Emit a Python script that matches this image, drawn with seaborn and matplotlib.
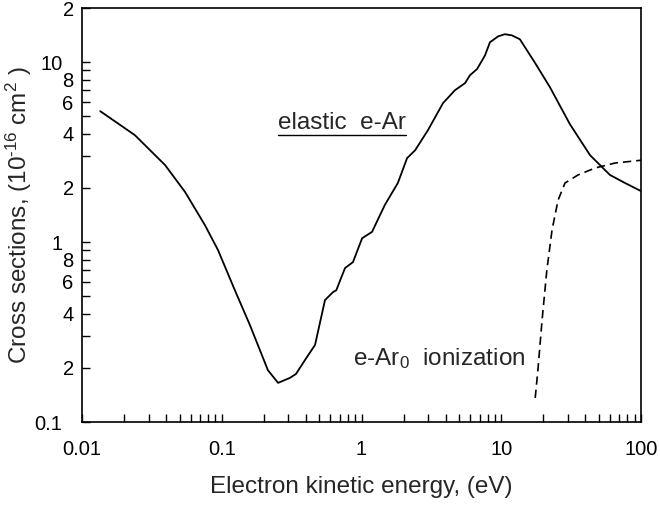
import numpy as np
import pandas as pd
import matplotlib
matplotlib.use("Agg")
import matplotlib.pyplot as plt
import seaborn as sns
from matplotlib.ticker import FixedLocator, FixedFormatter, NullFormatter

# Elastic e-Ar cross section (1e-16 cm^2) vs energy (eV)
elastic_energy = [0.0135, 0.0239, 0.0393, 0.0546, 0.0759, 0.094, 0.124, 0.159, 0.214, 0.253,
                  0.308, 0.34, 0.394, 0.465, 0.548, 0.625, 0.66, 0.762, 0.869, 1.01, 1.19,
                  1.47, 1.82, 2.12, 2.42, 2.99, 3.83, 4.67, 5.5, 5.98, 6.71, 7.65, 8.3,
                  9.48, 10.6, 11.9, 13.6, 17.5, 22.3, 31.0, 43.2, 60.0, 76.9, 100.0]
elastic_sigma = [5.34, 3.93, 2.68, 1.90, 1.24, 0.903, 0.541, 0.346, 0.194, 0.165,
                 0.176, 0.185, 0.221, 0.268, 0.476, 0.527, 0.54, 0.717, 0.774, 1.05, 1.14,
                 1.61, 2.13, 2.93, 3.24, 4.19, 5.92, 6.99, 7.64, 8.47, 9.15, 10.9, 12.9,
                 13.9, 14.3, 14.1, 13.4, 9.87, 7.26, 4.52, 3.04, 2.36, 2.13, 1.92]

# Ionization e-Ar0
ion_energy = [17.5, 18.3, 19.6, 21.2, 23.1, 25.5, 28.6, 35.4, 46.9, 65.2, 100.0]
ion_sigma = [0.136, 0.195, 0.369, 0.699, 1.17, 1.71, 2.13, 2.36, 2.58, 2.75, 2.85]

y_major_vals = [0.1, 1, 10]
y_major_txt = ["0.1", "1", "10"]
y_minor_vals = [0.2, 0.3, 0.4, 0.5, 0.6, 0.7, 0.8, 0.9, 2, 3, 4, 5, 6, 7, 8, 9, 20]
y_minor_txt = ["2", "", "4", "", "6", "", "8", "", "2", "", "4", "", "6", "", "8", "", "2"]
x_major_vals = [0.01, 0.1, 1, 10, 100]
x_major_txt = ["0.01", "0.1", "1", "10", "100"]

sns.set_style("ticks")
plt.rcParams['font.family'] = ['Liberation Sans', 'DejaVu Sans']
plt.rcParams['mathtext.fontset'] = 'custom'
plt.rcParams['mathtext.rm'] = 'Liberation Sans'
plt.rcParams['mathtext.it'] = 'Liberation Sans:italic'

fig = plt.figure(figsize=(6.6, 5.08), dpi=100)
ax = fig.add_axes([82/660, 1-422/508, (641-82)/660, (422-8)/508])

df_el = pd.DataFrame({"E": elastic_energy, "s": elastic_sigma})
df_ion = pd.DataFrame({"E": ion_energy, "s": ion_sigma})
sns.lineplot(data=df_el, x="E", y="s", ax=ax, color="black", lw=1.3, sort=False)
sns.lineplot(data=df_ion, x="E", y="s", ax=ax, color="black", lw=1.2, sort=False,
             linestyle=(0, (5, 3)))

ax.set_xscale("log")
ax.set_yscale("log")
ax.set_xlim(0.01, 100)
ax.set_ylim(0.1, 20)

ax.xaxis.set_major_locator(FixedLocator(x_major_vals))
ax.xaxis.set_major_formatter(FixedFormatter(x_major_txt))
xminor = [m * d for d in [0.01, 0.1, 1, 10] for m in range(2, 10)]
ax.xaxis.set_minor_locator(FixedLocator(xminor))
ax.xaxis.set_minor_formatter(NullFormatter())

ax.yaxis.set_major_locator(FixedLocator(y_major_vals))
ax.yaxis.set_major_formatter(FixedFormatter(y_major_txt))
ax.yaxis.set_minor_locator(FixedLocator(y_minor_vals))
ax.yaxis.set_minor_formatter(FixedFormatter(y_minor_txt))

ax.tick_params(which="both", direction="in", length=6, width=1, color="black",
               labelsize=14.5, labelcolor="black")
ax.tick_params(axis="x", which="major", pad=13)
ax.tick_params(axis="y", which="major", pad=14)
ax.tick_params(axis="y", which="minor", pad=6)
for s in ax.spines.values():
    s.set_color("black")
    s.set_linewidth(1.2)

ax.set_xlabel("Electron kinetic energy, (eV)", fontsize=17.5, labelpad=12)
ax.set_ylabel("Cross sections, (10$^{\\text{-16}}$ cm$^{2}$ )", fontsize=17.5)
ax.yaxis.set_label_coords(-0.086, 0.5)

t1 = ax.text(0.351, 0.708, "elastic  e-Ar", transform=ax.transAxes, fontsize=17.5,
             ha="left", va="baseline")
ax.text(0.485, 0.138, "e-Ar$_{0}$  ionization", transform=ax.transAxes, fontsize=17.5,
        ha="left", va="baseline")

fig.canvas.draw()
bb = t1.get_window_extent().transformed(ax.transAxes.inverted())
ax.plot([bb.x0, bb.x1], [bb.y0 - 0.003, bb.y0 - 0.003], transform=ax.transAxes,
        color="black", lw=1)

fig.savefig("out.png", dpi=100, facecolor="white")
